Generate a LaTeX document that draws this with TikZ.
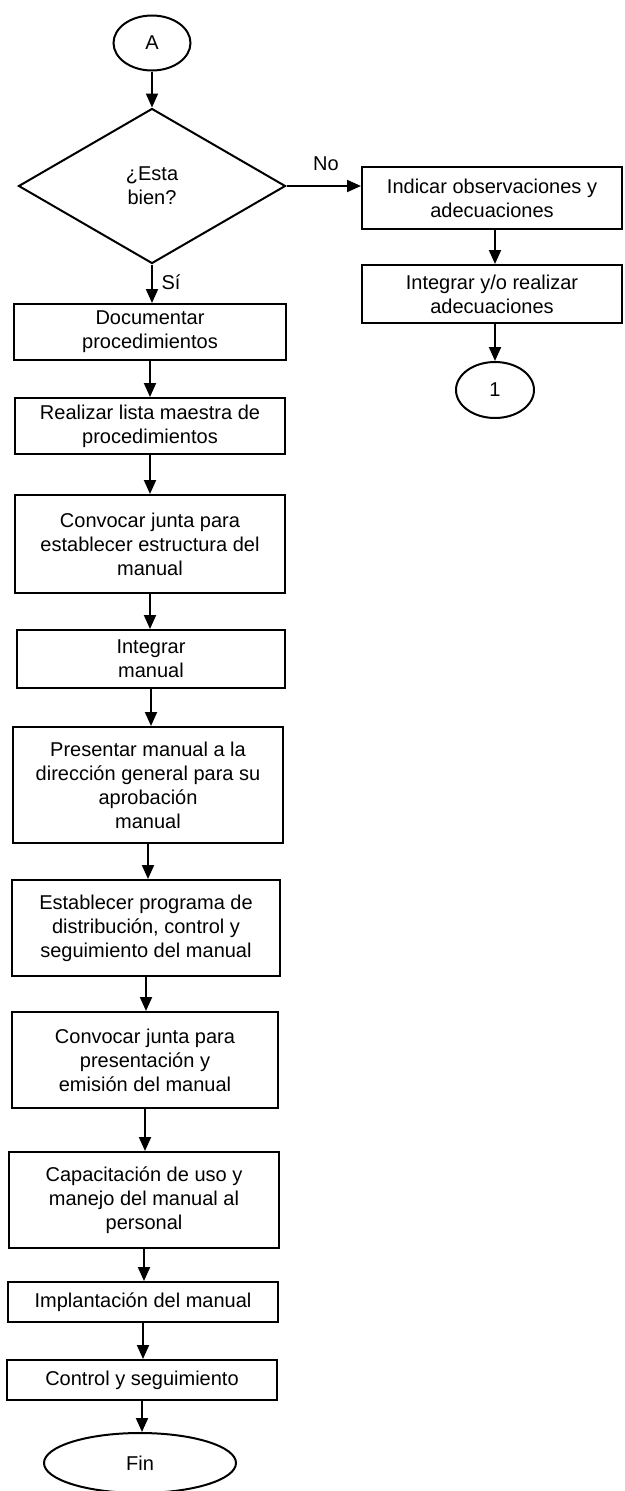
\documentclass[tikz,border=0pt]{standalone}
\usepackage{fontspec}
\setmainfont{Liberation Sans}
\usetikzlibrary{shapes.geometric,arrows.meta}
\begin{document}
\begin{tikzpicture}[x=1pt,y=-1pt,
  every node/.style={font=\fontsize{20}{24}\selectfont},
  stepbox/.style={draw,line width=2pt,align=center,inner sep=0pt},
  term/.style={draw,ellipse,line width=2pt,inner sep=0pt},
  decision/.style={draw,diamond,line width=2pt,align=center,inner sep=0pt},
  flow/.style={line width=2pt,-{Triangle[length=14pt,width=12pt]}},
  lbl/.style={inner sep=0pt}]
\useasboundingbox (0,0) rectangle (624,1491);

% main column
\node[term,minimum width=77pt,minimum height=55pt] (A) at (152,43) {A};
\node[decision,minimum width=267pt,minimum height=155pt] (D) at (152,186) {¿Esta\\bien?};
\node[stepbox,minimum width=272pt,minimum height=56pt] (b1) at (150,332) {Documentar\\procedimientos};
\node[stepbox,minimum width=270pt,minimum height=56pt] (b2) at (150,426) {Realizar lista maestra de\\procedimientos};
\node[stepbox,minimum width=270pt,minimum height=98pt] (b3) at (150,544) {Convocar junta para\\establecer estructura del\\manual};
\node[stepbox,minimum width=268pt,minimum height=58pt] (b4) at (151,659) {Integrar\\manual};
\node[stepbox,minimum width=270pt,minimum height=116pt] (b5) at (148,785) {Presentar manual a la\\dirección general para su\\aprobación\\manual};
\node[stepbox,minimum width=268pt,minimum height=96pt] (b6) at (146,928) {Establecer programa de\\distribución, control y\\seguimiento del manual};
\node[stepbox,minimum width=266pt,minimum height=96pt] (b7) at (145,1060) {Convocar junta para\\presentación y\\emisión del manual};
\node[stepbox,minimum width=270pt,minimum height=96pt] (b8) at (144,1200) {Capacitación de uso y\\manejo del manual al\\personal};
\node[stepbox,minimum width=270pt,minimum height=40pt] (b9) at (143,1302) {Implantación del manual};
\node[stepbox,minimum width=270pt,minimum height=40pt] (b10) at (142,1380) {Control y seguimiento};
\node[term,minimum width=192pt,minimum height=60pt] (fin) at (140,1463) {Fin};

% right branch
\node[stepbox,minimum width=260pt,minimum height=62pt] (r1) at (492,198) {Indicar observaciones y\\adecuaciones};
\node[stepbox,minimum width=260pt,minimum height=58pt] (r2) at (492,294) {Integrar y/o realizar\\adecuaciones};
\node[term,minimum width=78pt,minimum height=56pt] (c1) at (495,390) {1};

% connectors
\draw[flow] (A) -- (D.north);
\draw[flow] (D.south) -- (D.south |- b1.north);
\draw[flow] (b1.south) -- (b1.south |- b2.north);
\draw[flow] (b2.south) -- (b2.south |- b3.north);
\draw[flow] (b3.south) -- (b3.south |- b4.north);
\draw[flow] (b4.south) -- (b4.south |- b5.north);
\draw[flow] (b5.south) -- (b5.south |- b6.north);
\draw[flow] (b6.south) -- (b6.south |- b7.north);
\draw[flow] (b7.south) -- (b7.south |- b8.north);
\draw[flow] (b8.south) -- (b8.south |- b9.north);
\draw[flow] (b9.south) -- (b9.south |- b10.north);
\draw[flow] (b10.south) -- (b10.south |- fin.north);
\draw[flow] (D.east) -- (D.east -| r1.west);
\draw[flow] (c1.north |- r1.south) -- (c1.north |- r2.north);
\draw[flow] (c1.north |- r2.south) -- (c1.north);

% branch labels
\node[lbl] (si) at (171,282) {Sí};
\node[lbl] (no) at (326,164) {No};
\end{tikzpicture}
\end{document}
